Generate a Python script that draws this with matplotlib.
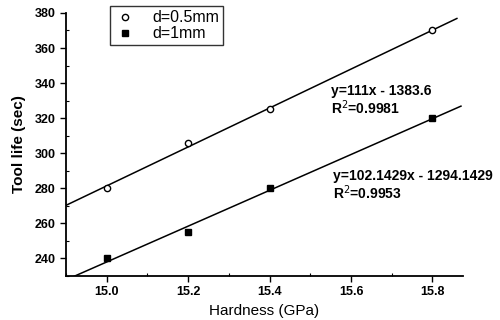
import matplotlib.pyplot as plt
import numpy as np
from matplotlib.ticker import MultipleLocator

plt.rcParams['font.family'] = ['Liberation Sans', 'DejaVu Sans']

# datos
dureza = [15.0, 15.2, 15.4, 15.8]
vida_05 = [280, 306, 325, 370]
vida_1 = [240, 255, 280, 320]

# rectas de ajuste (pendiente, ordenada)
ajuste_05 = (111, -1383.6)
ajuste_1 = (102.1429, -1294.1429)
texto_05 = 'y=111x - 1383.6\nR$^2$=0.9981'
texto_1 = 'y=102.1429x - 1294.1429\nR$^2$=0.9953'

fig = plt.figure(figsize=(5, 3.2), dpi=100)
ax = fig.add_axes([0.132, 0.1375, 0.794, 0.822])

xr = np.array([14.9, 15.86])
ax.plot(xr, ajuste_05[0] * xr + ajuste_05[1], color='black', lw=1.1)
xr2 = np.array([14.9, 15.87])
ax.plot(xr2, ajuste_1[0] * xr2 + ajuste_1[1], color='black', lw=1.1)

ax.plot(dureza, vida_05, 'o', mfc='white', mec='black', ms=4.5, mew=1,
        label='d=0.5mm')
ax.plot(dureza, vida_1, 's', color='black', ms=4.5, label='d=1mm')

ax.text(15.55, 330, texto_05, fontsize=10, fontweight='bold',
        linespacing=1.05, va='center')
ax.text(15.555, 281.5, texto_1, fontsize=10, fontweight='bold',
        linespacing=1.05, va='center')

ax.set_xlim(14.9, 15.875)
ax.set_ylim(230, 380)
ax.xaxis.set_major_locator(MultipleLocator(0.2))
ax.xaxis.set_minor_locator(MultipleLocator(0.1))
ax.yaxis.set_major_locator(MultipleLocator(20))
ax.yaxis.set_minor_locator(MultipleLocator(10))
ax.xaxis.set_major_formatter(lambda v, p: f'{v:.1f}')
ax.spines['top'].set_visible(False)
ax.spines['right'].set_visible(False)
for s in ('left', 'bottom'):
    ax.spines[s].set_linewidth(1.3)
ax.tick_params(which='major', direction='out', length=4, width=1,
               labelsize=9)
ax.tick_params(which='minor', direction='in', length=2.5, width=0.8)
for lab in ax.get_xticklabels() + ax.get_yticklabels():
    lab.set_fontweight('bold')

ax.set_xlabel('Hardness (GPa)', fontsize=11, labelpad=4)
ax.set_ylabel('Tool life (sec)', fontsize=11, fontweight='bold', labelpad=6)

leg = ax.legend(loc='upper left', bbox_to_anchor=(0.11, 1.025),
                fontsize=11.5, frameon=True, fancybox=False,
                edgecolor='black', borderpad=0.25, handletextpad=1.0,
                labelspacing=0.05, handlelength=1.4, borderaxespad=0)
leg.get_frame().set_linewidth(1)

fig.savefig('out.png', dpi=100)
